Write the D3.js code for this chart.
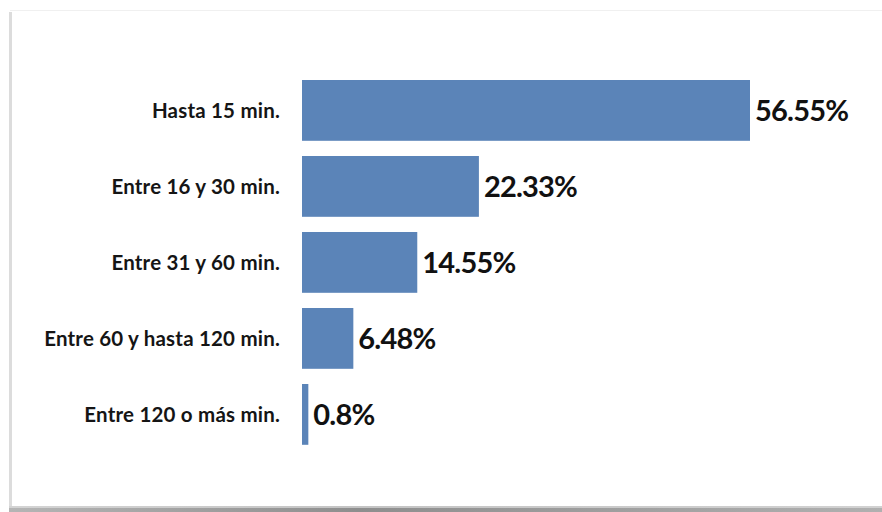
<!DOCTYPE html>
<html>
<head>
<meta charset="utf-8">
<script src="https://cdn.jsdelivr.net/npm/d3@7"></script>
<style>
  html, body { margin: 0; padding: 0; background: #fff; }
  svg { display: block; }
  .label { font-family: Lato, "Open Sans", sans-serif; font-weight: 700; font-size: 20.5px; fill: #151515; letter-spacing: 0.2px; }
  .value { font-family: Lato, "Open Sans", sans-serif; font-weight: 700; font-size: 29px; fill: #111; letter-spacing: -0.8px; }
</style>
</head>
<body>
<svg id="chart" width="882" height="512"></svg>
<script>
const categories = [
  "Hasta 15 min.",
  "Entre 16 y 30 min.",
  "Entre 31 y 60 min.",
  "Entre 60 y hasta 120 min.",
  "Entre 120 o más min.",
];
const values = [56.55, 22.33, 14.55, 6.48, 0.8];
const valueLabels = ["56.55%", "22.33%", "14.55%", "6.48%", "0.8%"];

const svg = d3.select("#chart");
const defs = svg.append("defs");

const grad = defs.append("linearGradient").attr("id", "bottomShadow")
  .attr("x1", 0).attr("x2", 1).attr("y1", 0).attr("y2", 0);
grad.append("stop").attr("offset", "0%").attr("stop-color", "#b5b5b5");
grad.append("stop").attr("offset", "40%").attr("stop-color", "#8e8e8e");
grad.append("stop").attr("offset", "100%").attr("stop-color", "#b0b0b0");

// card frame
svg.append("rect").attr("x", 10).attr("y", 10).attr("width", 880).attr("height", 498)
  .attr("fill", "#fff");
svg.append("line").attr("x1", 10).attr("x2", 882).attr("y1", 10.5).attr("y2", 10.5)
  .attr("stroke", "#f0f0f0").attr("stroke-width", 1);
svg.append("rect").attr("x", 9).attr("y", 12).attr("width", 3).attr("height", 495)
  .attr("fill", "#dcdcdc");
svg.append("rect").attr("x", 9).attr("y", 506).attr("width", 873).attr("height", 6)
  .attr("fill", "url(#bottomShadow)");
svg.append("rect").attr("x", 9).attr("y", 506).attr("width", 873).attr("height", 2)
  .attr("fill", "#e8e8e8").attr("opacity", 0.6);

const y = d3.scaleBand()
  .domain(categories)
  .range([72.4, 452.4])
  .paddingInner(0.2)
  .paddingOuter(0.1);

const x = d3.scaleLinear()
  .domain([0, d3.max(values)])
  .range([302, 750]);

const rows = categories.map((c, i) => ({ cat: c, value: values[i], label: valueLabels[i] }));

svg.selectAll("rect.bar")
  .data(rows)
  .join("rect")
  .attr("class", "bar")
  .attr("x", x(0))
  .attr("y", (d) => y(d.cat))
  .attr("width", (d) => Math.max(3, x(d.value) - x(0)))
  .attr("height", y.bandwidth())
  .attr("fill", "#5b84b8");

svg.selectAll("text.label")
  .data(rows)
  .join("text")
  .attr("class", "label")
  .attr("x", 280)
  .attr("y", (d) => y(d.cat) + y.bandwidth() / 2)
  .attr("dy", "0.35em")
  .attr("text-anchor", "end")
  .text((d) => d.cat);

svg.selectAll("text.value")
  .data(rows)
  .join("text")
  .attr("class", "value")
  .attr("x", (d) => Math.max(x(d.value), x(0) + 3) + 5)
  .attr("y", (d) => y(d.cat) + y.bandwidth() / 2)
  .attr("dy", "0.36em")
  .text((d) => d.label);
</script>
</body>
</html>
